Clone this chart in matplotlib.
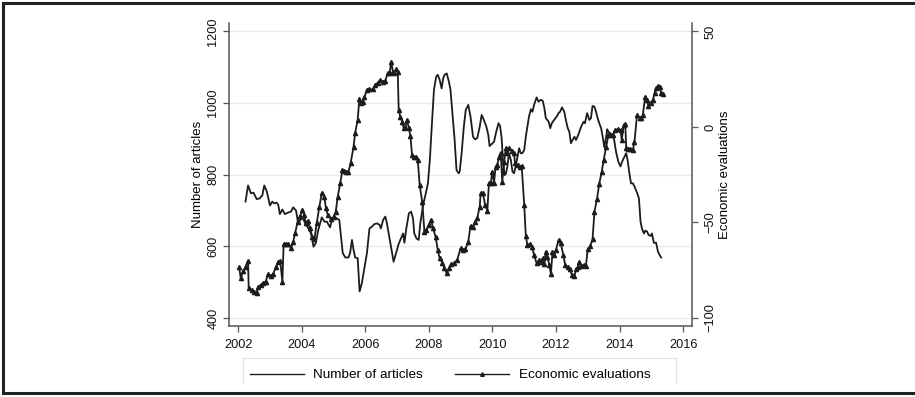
import matplotlib
matplotlib.use("Agg")
import matplotlib.pyplot as plt
from matplotlib.lines import Line2D

plt.rcParams['font.family'] = ['Liberation Sans', 'DejaVu Sans']

# Monthly count of news articles (left axis)
article_dates = [
    2002.23, 2002.31, 2002.40, 2002.48, 2002.58, 2002.68, 2002.76, 2002.82, 2002.90, 2003.00,
    2003.07, 2003.13, 2003.21, 2003.26, 2003.31, 2003.39, 2003.47, 2003.56, 2003.66, 2003.73,
    2003.82, 2003.89, 2003.98, 2004.05, 2004.12, 2004.21, 2004.29, 2004.37, 2004.44, 2004.52,
    2004.63, 2004.71, 2004.79, 2004.89, 2004.95, 2005.03, 2005.10, 2005.18, 2005.29, 2005.37,
    2005.47, 2005.52, 2005.58, 2005.63, 2005.68, 2005.76, 2005.82, 2005.89, 2005.97, 2006.05,
    2006.13, 2006.21, 2006.28, 2006.37, 2006.45, 2006.49, 2006.56, 2006.63, 2006.68, 2006.77,
    2006.84, 2006.89, 2006.98, 2007.05, 2007.12, 2007.19, 2007.23, 2007.29, 2007.37, 2007.44,
    2007.50, 2007.54, 2007.61, 2007.68, 2007.73, 2007.82, 2007.89, 2007.97, 2008.03, 2008.09,
    2008.16, 2008.23, 2008.28, 2008.34, 2008.40, 2008.45, 2008.49, 2008.56, 2008.63, 2008.68,
    2008.74, 2008.81, 2008.87, 2008.94, 2008.97, 2009.03, 2009.10, 2009.16, 2009.24, 2009.31,
    2009.39, 2009.45, 2009.52, 2009.60, 2009.66, 2009.73, 2009.81, 2009.87, 2009.91, 2009.98,
    2010.05, 2010.12, 2010.19, 2010.24, 2010.29, 2010.33, 2010.38, 2010.42, 2010.47, 2010.52,
    2010.58, 2010.63, 2010.68, 2010.73, 2010.79, 2010.84, 2010.89, 2010.94, 2011.00, 2011.05,
    2011.10, 2011.15, 2011.21, 2011.26, 2011.31, 2011.39, 2011.45, 2011.52, 2011.58, 2011.63,
    2011.68, 2011.77, 2011.82, 2011.87, 2011.94, 2012.02, 2012.08, 2012.13, 2012.19, 2012.26,
    2012.31, 2012.37, 2012.42, 2012.47, 2012.52, 2012.58, 2012.63, 2012.70, 2012.79, 2012.87,
    2012.91, 2012.98, 2013.05, 2013.10, 2013.15, 2013.21, 2013.26, 2013.31, 2013.36, 2013.42,
    2013.47, 2013.52, 2013.58, 2013.61, 2013.65, 2013.71, 2013.75, 2013.79, 2013.84, 2013.89,
    2013.96, 2014.03, 2014.07, 2014.13, 2014.21, 2014.26, 2014.31, 2014.36, 2014.42, 2014.47,
    2014.55, 2014.61, 2014.66, 2014.71, 2014.77, 2014.81, 2014.87, 2014.91, 2014.98, 2015.02,
    2015.08, 2015.15, 2015.21, 2015.26, 2015.31,
]
article_counts = [
    725, 770, 748, 750, 732, 734, 743, 770, 753, 714,
    725, 720, 722, 716, 690, 703, 690, 694, 697, 709,
    700, 662, 678, 676, 662, 650, 636, 599, 609, 646,
    681, 669, 669, 653, 674, 683, 678, 674, 581, 569,
    569, 581, 618, 590, 569, 567, 474, 497, 539, 581,
    650, 655, 662, 664, 660, 650, 674, 683, 664, 618,
    581, 557, 585, 607, 622, 636, 610, 650, 692, 697,
    678, 636, 622, 618, 664, 716, 743, 776, 841, 934,
    1037, 1074, 1079, 1065, 1041, 1069, 1079, 1083, 1060, 1037,
    972, 897, 813, 804, 809, 860, 934, 981, 995, 962,
    906, 899, 902, 934, 967, 953, 934, 911, 880, 886,
    892, 920, 944, 936, 902, 841, 799, 802, 823, 860,
    841, 809, 804, 823, 851, 874, 860, 860, 869, 906,
    934, 962, 983, 976, 995, 1016, 1004, 1009, 1007, 988,
    958, 948, 930, 944, 953, 962, 972, 976, 988, 976,
    953, 930, 920, 888, 897, 906, 897, 911, 934, 948,
    944, 972, 953, 958, 992, 990, 976, 958, 944, 930,
    906, 877, 906, 927, 920, 916, 911, 914, 892, 864,
    837, 823, 834, 846, 860, 837, 804, 776, 776, 767,
    750, 734, 669, 648, 636, 644, 641, 632, 629, 636,
    610, 610, 585, 576, 569,
]

# Economic evaluations index (right axis)
eval_dates = [
    2002.03, 2002.08, 2002.16, 2002.23, 2002.31, 2002.33, 2002.42, 2002.50, 2002.58, 2002.63,
    2002.71, 2002.79, 2002.86, 2002.95, 2003.03, 2003.10, 2003.18, 2003.26, 2003.32, 2003.39,
    2003.43, 2003.50, 2003.58, 2003.66, 2003.73, 2003.79, 2003.87, 2003.95, 2004.02, 2004.08,
    2004.12, 2004.19, 2004.26, 2004.33, 2004.40, 2004.47, 2004.55, 2004.63, 2004.71, 2004.76,
    2004.82, 2004.92, 2005.00, 2005.07, 2005.13, 2005.21, 2005.28, 2005.33, 2005.40, 2005.47,
    2005.54, 2005.63, 2005.68, 2005.76, 2005.81, 2005.86, 2005.92, 2005.97, 2006.05, 2006.13,
    2006.24, 2006.31, 2006.39, 2006.47, 2006.56, 2006.63, 2006.70, 2006.77, 2006.81, 2006.87,
    2006.91, 2006.98, 2007.02, 2007.05, 2007.10, 2007.16, 2007.21, 2007.26, 2007.31, 2007.37,
    2007.42, 2007.47, 2007.54, 2007.61, 2007.65, 2007.71, 2007.79, 2007.86, 2007.92, 2007.99,
    2008.07, 2008.13, 2008.21, 2008.28, 2008.34, 2008.42, 2008.49, 2008.56, 2008.63, 2008.70,
    2008.79, 2008.89, 2009.00, 2009.07, 2009.15, 2009.24, 2009.31, 2009.39, 2009.45, 2009.52,
    2009.60, 2009.63, 2009.70, 2009.77, 2009.84, 2009.89, 2009.95, 2010.00, 2010.05, 2010.10,
    2010.15, 2010.21, 2010.26, 2010.31, 2010.37, 2010.42, 2010.47, 2010.52, 2010.61, 2010.68,
    2010.71, 2010.79, 2010.86, 2010.92, 2011.00, 2011.05, 2011.10, 2011.18, 2011.24, 2011.31,
    2011.39, 2011.47, 2011.52, 2011.58, 2011.63, 2011.68, 2011.73, 2011.79, 2011.84, 2011.89,
    2011.94, 2012.00, 2012.08, 2012.15, 2012.23, 2012.29, 2012.37, 2012.44, 2012.50, 2012.58,
    2012.63, 2012.68, 2012.73, 2012.79, 2012.87, 2012.94, 2013.00, 2013.08, 2013.15, 2013.21,
    2013.29, 2013.36, 2013.44, 2013.50, 2013.58, 2013.65, 2013.71, 2013.79, 2013.86, 2013.94,
    2014.03, 2014.07, 2014.13, 2014.18, 2014.21, 2014.28, 2014.34, 2014.42, 2014.47, 2014.55,
    2014.63, 2014.68, 2014.73, 2014.81, 2014.87, 2014.91, 2014.98, 2015.05, 2015.10, 2015.15,
    2015.21, 2015.26, 2015.31, 2015.36,
]
eval_scores = [
    -73.5, -79.2, -75.2, -73.1, -70.0, -84.5, -85.3, -86.2, -86.7, -83.6,
    -82.7, -81.5, -81.0, -77.0, -78.0, -77.0, -73.5, -70.5, -70.0, -81.0,
    -61.2, -61.2, -61.2, -63.5, -60.0, -55.7, -49.6, -46.6, -43.4, -46.1,
    -50.4, -49.0, -53.0, -57.4, -58.5, -50.4, -42.1, -34.4, -36.5, -42.6,
    -46.1, -48.3, -47.0, -44.3, -36.5, -29.5, -22.5, -23.0, -23.4, -23.4,
    -18.7, -10.3, -3.0, 3.7, 14.5, 12.4, 13.3, 15.5, 19.4, 19.7,
    19.7, 22.0, 23.2, 24.6, 23.7, 24.3, 28.1, 28.4, 34.2, 29.0,
    28.1, 30.2, 29.0, 8.9, 5.4, 2.8, -0.7, 0.2, 3.7, -0.7,
    -4.7, -14.7, -15.5, -15.9, -17.3, -30.4, -39.1, -54.8, -53.9, -51.3,
    -48.7, -53.0, -57.4, -64.4, -68.8, -71.0, -74.0, -76.6, -74.0, -71.7,
    -71.4, -69.6, -63.5, -64.4, -64.0, -60.0, -51.8, -52.5, -49.6, -47.8,
    -41.7, -34.7, -34.7, -40.8, -43.8, -29.5, -29.1, -23.4, -29.1, -20.8,
    -19.9, -15.5, -13.4, -28.6, -18.1, -11.2, -13.8, -11.2, -12.4, -13.8,
    -19.0, -19.9, -20.8, -20.4, -40.8, -57.1, -61.8, -61.2, -62.6, -67.0,
    -71.4, -69.6, -70.5, -68.8, -71.7, -65.3, -67.9, -72.2, -77.0, -65.3,
    -67.0, -64.4, -59.2, -60.9, -67.0, -72.2, -73.5, -74.5, -77.5, -78.0,
    -74.5, -73.5, -70.5, -72.8, -72.2, -72.8, -64.0, -62.3, -58.8, -44.3,
    -37.9, -29.8, -23.4, -17.3, -10.3, -4.2, -4.2, -4.2, -1.6, -1.2,
    -1.6, -6.8, 1.0, 1.6, -11.2, -11.7, -11.7, -12.0, -7.7, 6.3,
    4.5, 4.5, 6.3, 15.9, 14.1, 11.0, 12.7, 14.1, 17.6, 20.2,
    21.5, 21.1, 17.6, 17.3,
]

left_ticks = [400, 600, 800, 1000, 1200]
right_ticks = [-100, -50, 0, 50]
year_ticks = [2002, 2004, 2006, 2008, 2010, 2012, 2014, 2016]

W, H = 915, 397
line_col = '#1c1c1c'
axis_col = '#555555'
grid_col = '#e6edf2'

fig = plt.figure(figsize=(W / 100, H / 100), dpi=100)
ax = fig.add_axes([229 / W, 1 - 326 / H, 463 / W, 303 / H])
ax2 = ax.twinx()

ax.plot(article_dates, article_counts, color=line_col, lw=1.3,
        label='Number of articles', zorder=3)
ax2.plot(eval_dates, eval_scores, color=line_col, lw=1.3, marker='^',
         markersize=3.0, label='Economic evaluations', zorder=3)

ax.set_xlim(2001.71, 2016.28)
ax.set_ylim(377.6, 1223.7)
ax2.set_ylim(-104.2, 54.45)

ax.set_xticks(year_ticks)
ax.set_yticks(left_ticks)
ax2.set_yticks(right_ticks)
ax.yaxis.grid(True, color=grid_col, lw=1.0)
ax.set_axisbelow(True)

for a in (ax, ax2):
    a.spines['top'].set_visible(False)
    for s in ('left', 'right', 'bottom'):
        a.spines[s].set_color(axis_col)
        a.spines[s].set_linewidth(1.1)
    a.tick_params(colors=axis_col, labelcolor='#111111', length=4,
                  width=0.9, labelsize=9.2)
ax.spines['right'].set_visible(False)
ax2.spines['left'].set_visible(False)
ax2.spines['bottom'].set_visible(False)

ax.tick_params(axis='x', pad=5)
ax.tick_params(axis='y', labelrotation=90, pad=3)
ax2.tick_params(axis='y', labelrotation=90, pad=5)
for lab in ax.get_yticklabels() + ax2.get_yticklabels():
    lab.set_va('center')

ax.set_ylabel('Number of articles', fontsize=9.5, labelpad=2)
ax2.set_ylabel('Economic evaluations', fontsize=9.5, labelpad=2)

# legend entries without a frame; the box below is open at the bottom
handles = [Line2D([], [], color=line_col, lw=1.0),
           Line2D([], [], color=line_col, lw=1.0, marker='^', markersize=2.6)]
fig.legend(handles, ['Number of articles', 'Economic evaluations'],
           ncol=2, loc='center left', bbox_to_anchor=(250 / W, 1 - 375 / H),
           fontsize=9.7, frameon=False, handlelength=4.0, handletextpad=0.7,
           columnspacing=2.4, borderpad=0, borderaxespad=0, numpoints=1)
box_x0, box_x1, box_top, box_bot = 242.7 / W, 676 / W, 1 - 358.3 / H, 1 - 383 / H
for xs, ys in (([box_x0, box_x0], [box_bot, box_top]),
               ([box_x0, box_x1], [box_top, box_top]),
               ([box_x1, box_x1], [box_top, box_bot])):
    fig.add_artist(Line2D(xs, ys, transform=fig.transFigure, color='#e2e2e2', lw=0.9))

# outer frame around the figure
for xs, ys in (([3 / W, 1.0], [1 - 3 / H] * 2),
               ([3 / W, 3 / W], [1 - 3 / H, 1 - 393 / H]),
               ([3 / W, 1.0], [1 - 393 / H] * 2)):
    fig.add_artist(Line2D(xs, ys, transform=fig.transFigure, color='#222222', lw=2.2))

fig.savefig('out.png', dpi=100)
